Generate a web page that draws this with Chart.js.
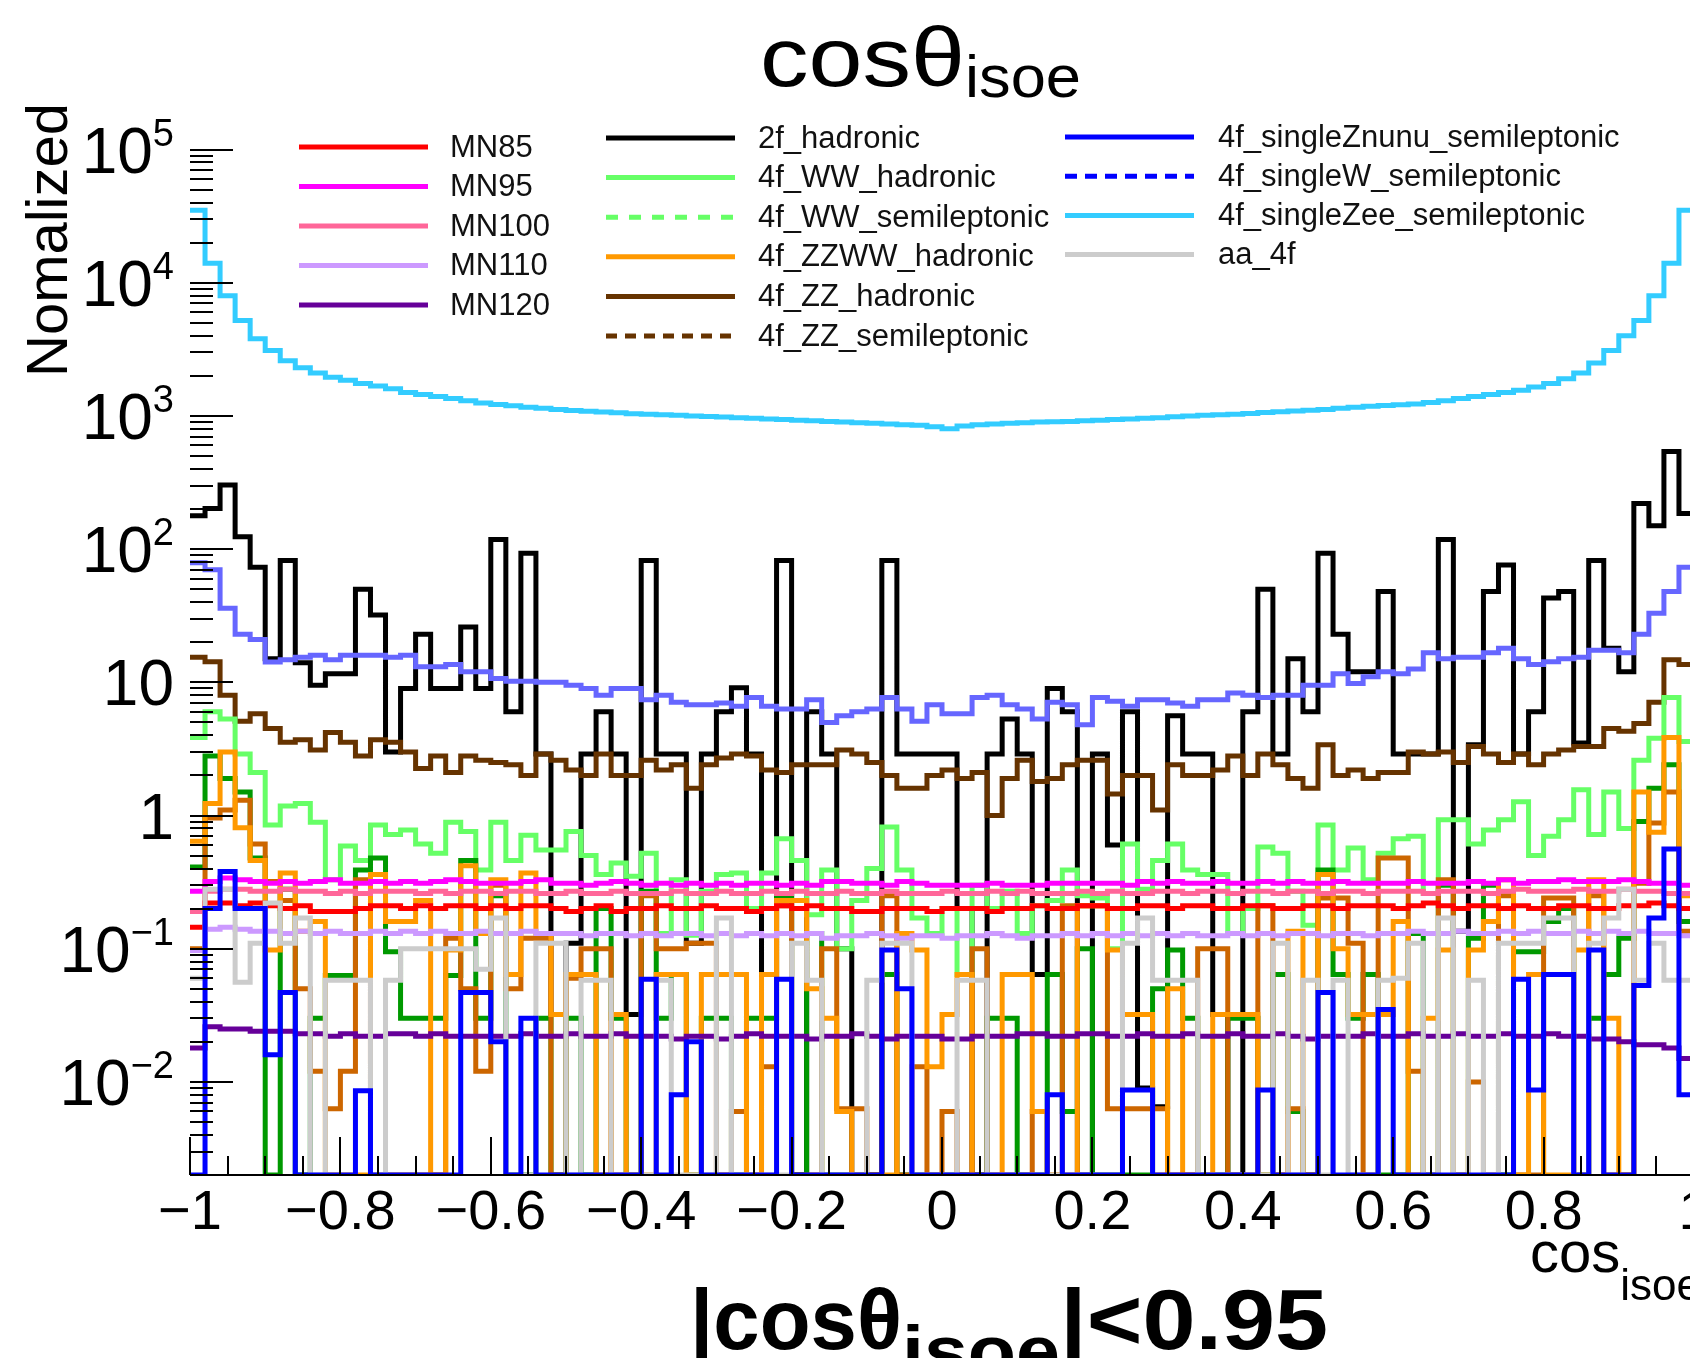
<!DOCTYPE html>
<html>
<head>
<meta charset="utf-8">
<title>cos theta isoe</title>
<script src="https://cdn.jsdelivr.net/npm/chart.js@4.4.1/dist/chart.umd.min.js"></script>
<style>
  html, body { margin: 0; padding: 0; background: #ffffff; overflow: hidden; }
  canvas { display: block; }
</style>
</head>
<body>
<canvas id="histo" width="1690" height="1358" style="width:1690px;height:1358px"></canvas>
<script>
// binning: 100 bins from -1 to 1
const BIN_LO = -1;
const BIN_W = 0.02;
const Y_MIN = 0.002;
const Y_MAX = 1.2e5;
const X_MAX = -1 + 1500 / 752;   // x = 1 sits just past the right edge

const xTicks = [-1, -0.8, -0.6, -0.4, -0.2, 0, 0.2, 0.4, 0.6, 0.8, 1];
const yDecades = [-2, -1, 0, 1, 2, 3, 4, 5];

// signal samples
const mn85 = [
  0.145, 0.22, 0.22, 0.21, 0.22, 0.21, 0.2, 0.21, 0.19, 0.19, 0.19, 0.2, 0.21, 0.21, 0.2, 0.21, 0.2, 0.21, 0.21, 0.2,
  0.21, 0.2, 0.21, 0.21, 0.2, 0.19, 0.2, 0.21, 0.19, 0.2, 0.2, 0.21, 0.2, 0.2, 0.21, 0.2, 0.2, 0.19, 0.2, 0.21,
  0.2, 0.21, 0.2, 0.2, 0.19, 0.19, 0.2, 0.2, 0.2, 0.19, 0.2, 0.2, 0.2, 0.19, 0.2, 0.2, 0.21, 0.2, 0.2, 0.21,
  0.21, 0.2, 0.2, 0.21, 0.21, 0.2, 0.21, 0.21, 0.2, 0.2, 0.21, 0.21, 0.2, 0.2, 0.21, 0.21, 0.2, 0.21, 0.21, 0.21,
  0.2, 0.21, 0.22, 0.21, 0.2, 0.21, 0.21, 0.2, 0.21, 0.2, 0.2, 0.21, 0.21, 0.2, 0.2, 0.21, 0.21, 0.22, 0.21, 0.2
];
const mn95 = [
  0.27, 0.32, 0.34, 0.33, 0.32, 0.31, 0.32, 0.31, 0.32, 0.33, 0.31, 0.31, 0.32, 0.31, 0.32, 0.31, 0.32, 0.33, 0.32, 0.31,
  0.31, 0.31, 0.32, 0.33, 0.31, 0.31, 0.3, 0.31, 0.32, 0.31, 0.3, 0.31, 0.3, 0.31, 0.3, 0.31, 0.3, 0.31, 0.31, 0.3,
  0.31, 0.3, 0.32, 0.32, 0.31, 0.31, 0.3, 0.32, 0.31, 0.3, 0.3, 0.3, 0.3, 0.31, 0.3, 0.3, 0.3, 0.31, 0.31, 0.31,
  0.31, 0.31, 0.3, 0.32, 0.31, 0.32, 0.31, 0.31, 0.32, 0.31, 0.31, 0.32, 0.31, 0.32, 0.31, 0.31, 0.32, 0.31, 0.31, 0.31,
  0.31, 0.32, 0.31, 0.31, 0.31, 0.32, 0.31, 0.33, 0.31, 0.32, 0.32, 0.33, 0.32, 0.32, 0.32, 0.33, 0.32, 0.31, 0.31, 0.3
];
const mn100 = [
  0.19, 0.27, 0.28, 0.28, 0.27, 0.27, 0.28, 0.27, 0.27, 0.26, 0.27, 0.26, 0.27, 0.27, 0.27, 0.26, 0.27, 0.26, 0.27, 0.27,
  0.26, 0.27, 0.27, 0.26, 0.26, 0.27, 0.26, 0.26, 0.27, 0.26, 0.26, 0.26, 0.27, 0.26, 0.26, 0.27, 0.26, 0.26, 0.27, 0.26,
  0.27, 0.26, 0.26, 0.27, 0.26, 0.26, 0.27, 0.26, 0.26, 0.26, 0.27, 0.26, 0.26, 0.27, 0.26, 0.27, 0.26, 0.26, 0.26, 0.27,
  0.26, 0.27, 0.26, 0.26, 0.27, 0.27, 0.26, 0.27, 0.27, 0.26, 0.27, 0.27, 0.26, 0.27, 0.27, 0.26, 0.27, 0.27, 0.26, 0.27,
  0.27, 0.27, 0.26, 0.27, 0.27, 0.27, 0.26, 0.27, 0.28, 0.27, 0.27, 0.27, 0.28, 0.27, 0.27, 0.28, 0.27, 0.27, 0.26, 0.26
];
const mn110 = [
  0.097, 0.14, 0.145, 0.14, 0.135, 0.135, 0.13, 0.135, 0.13, 0.135, 0.13, 0.13, 0.135, 0.13, 0.135, 0.13, 0.135, 0.13, 0.13, 0.135,
  0.13, 0.13, 0.135, 0.13, 0.13, 0.13, 0.125, 0.13, 0.13, 0.125, 0.13, 0.125, 0.13, 0.13, 0.125, 0.13, 0.125, 0.13, 0.125, 0.13,
  0.125, 0.13, 0.12, 0.125, 0.125, 0.13, 0.125, 0.12, 0.125, 0.125, 0.12, 0.125, 0.125, 0.13, 0.125, 0.12, 0.125, 0.125, 0.13, 0.125,
  0.13, 0.125, 0.13, 0.125, 0.13, 0.125, 0.13, 0.125, 0.125, 0.13, 0.125, 0.13, 0.125, 0.13, 0.13, 0.125, 0.13, 0.13, 0.125, 0.13,
  0.13, 0.135, 0.13, 0.13, 0.135, 0.13, 0.13, 0.135, 0.13, 0.135, 0.13, 0.13, 0.135, 0.13, 0.135, 0.13, 0.135, 0.13, 0.13, 0.125
];
const mn120 = [
  0.018, 0.026, 0.025, 0.025, 0.024, 0.024, 0.024, 0.023, 0.023, 0.022, 0.023, 0.022, 0.022, 0.023, 0.023, 0.022, 0.023, 0.022, 0.022, 0.022,
  0.022, 0.022, 0.023, 0.022, 0.022, 0.023, 0.022, 0.022, 0.023, 0.022, 0.022, 0.022, 0.021, 0.022, 0.022, 0.021, 0.022, 0.023, 0.022, 0.022,
  0.022, 0.021, 0.022, 0.022, 0.023, 0.022, 0.021, 0.022, 0.022, 0.022, 0.021, 0.021, 0.022, 0.022, 0.022, 0.023, 0.023, 0.022, 0.022, 0.023,
  0.023, 0.022, 0.022, 0.023, 0.022, 0.022, 0.023, 0.022, 0.022, 0.023, 0.022, 0.022, 0.023, 0.022, 0.021, 0.022, 0.022, 0.022, 0.023, 0.022,
  0.022, 0.023, 0.022, 0.022, 0.023, 0.022, 0.022, 0.023, 0.022, 0.022, 0.023, 0.022, 0.022, 0.021, 0.021, 0.02, 0.019, 0.019, 0.018, 0.015
];

// backgrounds (0 = empty bin)
const had2f = [
  178, 202, 303, 124, 73, 15, 82, 14, 9.5, 11.6, 11.6, 50, 32, 3.0, 9.0, 23, 9.0, 9.0, 26, 9.0,
  118, 6.0, 93, 2.9, 0.032, 0.11, 2.9, 6.0, 2.9, 0.032, 82, 2.9, 2.9, 0.11, 2.9, 6.0, 9.1, 2.9, 0.064, 82,
  0, 6.0, 2.9, 0.1, 0, 0, 82, 2.9, 2.9, 2.9, 2.9, 0.2, 0, 2.9, 5.3, 2.9, 0.064, 9, 6, 0,
  2.9, 0.6, 6.0, 0.009, 0.0065, 5.6, 2.9, 2.9, 0.032, 0, 6.0, 50, 2.9, 15, 6.0, 93, 23, 12, 12, 48,
  2.9, 2.9, 2.9, 118, 0.135, 3.4, 48, 76, 2.9, 6.0, 43, 48, 3.5, 82, 18, 12, 220, 150, 540, 185
];
const wwHad = [
  3.85, 6.0, 5.3, 2.9, 2.1, 0.85, 1.18, 1.23, 0.89, 0.33, 0.59, 0.46, 0.85, 0.72, 0.78, 0.61, 0.52, 0.89, 0.76, 0.39,
  0.89, 0.46, 0.71, 0.55, 0.55, 0.76, 0.5, 0.36, 0.44, 0.35, 0.52, 0.13, 0.33, 0.126, 0.27, 0.36, 0.37, 0.2, 0.37, 0.67,
  0.46, 0.18, 0.39, 0.1, 0.23, 0.4, 0.82, 0.39, 0.17, 0.13, 0.2, 0.064, 0.3, 0.2, 0.27, 0.13, 0.21, 0.23, 0.39, 0.25,
  0.24, 0.1, 0.61, 0.28, 0.46, 0.61, 0.39, 0.36, 0.36, 0.13, 0.2, 0.58, 0.52, 0.27, 0.15, 0.85, 0.39, 0.57, 0.33, 0.52,
  0.67, 0.7, 0.26, 0.93, 0.93, 0.61, 0.78, 0.93, 1.27, 0.5, 0.7, 0.93, 1.56, 0.72, 1.5, 0.8, 2.6, 3.8, 7.7, 3.6
];
const wwSemi = [
  0.41, 2.8, 1.9, 1.5, 0.48, 0, 0.28, 0, 0.03, 0.063, 0.063, 0.39, 0.48, 0.095, 0.03, 0.03, 0.03, 0.063, 0.46, 0.03,
  0.25, 0, 0, 0.03, 0, 0.03, 0, 0.2, 0.03, 0, 0.27, 0.03, 0.064, 0, 0.03, 0.03, 0, 0.03, 0.03, 0.25,
  0, 0.13, 0, 0, 0, 0, 0.064, 0, 0, 0, 0, 0, 0, 0.03, 0.03, 0, 0, 0.064, 0.006, 0.1,
  0, 0, 0, 0, 0.05, 0.098, 0.03, 0, 0, 0.03, 0.03, 0, 0.064, 0.006, 0, 0.39, 0.064, 0.03, 0.064, 0,
  0, 0.13, 0, 0.3, 0, 0.12, 0.3, 0, 0.095, 0.095, 0.16, 0.2, 0, 0.03, 0.064, 0.12, 0.9, 1.6, 2.4, 0.16
];
const zzwwHad = [
  0.64, 1.23, 3.0, 0.81, 0.46, 0.098, 0.37, 0.135, 0.16, 0, 0, 0, 0.36, 0.16, 0.16, 0.23, 0, 0.098, 0.42, 0.13,
  0.33, 0.064, 0.37, 0.13, 0.032, 0.064, 0.064, 0, 0.032, 0, 0, 0.064, 0.064, 0, 0.064, 0.064, 0.064, 0, 0.064, 0.23,
  0.23, 0.05, 0.03, 0.006, 0, 0, 0, 0.13, 0.098, 0.013, 0.032, 0.064, 0, 0, 0.064, 0.064, 0.006, 0, 0, 0.21,
  0.21, 0.098, 0.032, 0.032, 0, 0.05, 0, 0, 0.032, 0.032, 0.032, 0, 0, 0.135, 0, 0.36, 0.1, 0.032, 0.032, 0.032,
  0.16, 0, 0.03, 0.098, 0, 0.098, 0.16, 0.33, 0, 0.064, 0, 0, 0.098, 0.33, 0.03, 0, 1.5, 0.75, 3.85, 0.25
];
const zzHad = [
  15.4, 14.3, 8.0, 5.1, 5.8, 4.5, 3.55, 3.7, 3.1, 4.2, 3.55, 2.8, 3.7, 3.55, 3.0, 2.25, 2.8, 2.1, 2.8, 2.6,
  2.5, 2.4, 2.0, 2.9, 2.6, 2.2, 2.0, 2.9, 2.0, 2.0, 2.6, 2.2, 2.4, 1.6, 2.4, 2.7, 2.9, 2.8, 2.2, 2.1,
  2.4, 2.4, 2.4, 3.1, 2.9, 2.5, 2.0, 1.6, 1.6, 2.0, 2.2, 1.9, 2.1, 1.0, 1.9, 2.6, 1.8, 1.9, 2.4, 2.6,
  2.6, 1.45, 2.0, 2.0, 1.1, 2.4, 2.0, 2.0, 2.2, 2.8, 2.0, 2.9, 2.4, 1.9, 1.6, 3.4, 2.0, 2.2, 1.9, 2.1,
  2.1, 3.0, 2.9, 3.0, 2.5, 3.3, 2.9, 2.5, 2.9, 2.4, 2.9, 3.1, 3.3, 3.3, 4.5, 4.3, 4.9, 7.1, 14.8, 13.6
];
const zzSemi = [
  0.1, 0.96, 1.1, 1.3, 0.61, 0.32, 0.23, 0.05, 0.012, 0.0063, 0.012, 0.33, 0, 0, 0, 0, 0, 0.12, 0.05, 0.012,
  0.3, 0.05, 0.12, 0.12, 0, 0.06, 0.1, 0.1, 0, 0, 0.25, 0.1, 0.1, 0.11, 0.11, 0, 0.006, 0, 0.013, 0.21,
  0, 0, 0.1, 0.0063, 0.0063, 0, 0.25, 0, 0.013, 0, 0.006, 0, 0.1, 0, 0, 0, 0.006, 0, 0.21, 0.21,
  0.21, 0.0063, 0.0063, 0.0063, 0.0063, 0, 0, 0.1, 0.1, 0, 0, 0.21, 0, 0.0063, 0, 0.24, 0.24, 0.11, 0, 0.48,
  0.48, 0.012, 0, 0.33, 0, 0.01, 0, 0.25, 0, 0, 0.24, 0.24, 0, 0.25, 0, 0, 0.31, 0.88, 1.5, 0.135
];
const singleZnunu = [
  0, 0.2, 0.38, 0.2, 0.2, 0.016, 0.047, 0, 0, 0, 0, 0.0086, 0, 0, 0, 0, 0, 0, 0.047, 0.047,
  0.02, 0, 0.03, 0, 0, 0, 0, 0, 0, 0, 0.059, 0, 0.008, 0.02, 0, 0, 0, 0, 0, 0.059,
  0, 0, 0, 0, 0, 0, 0.098, 0.05, 0, 0, 0, 0, 0, 0, 0, 0, 0, 0.008, 0, 0,
  0, 0, 0.0087, 0.0087, 0, 0, 0, 0, 0, 0, 0, 0.0087, 0, 0, 0, 0.047, 0, 0, 0, 0.035,
  0, 0, 0, 0, 0, 0, 0, 0, 0.059, 0.0087, 0.064, 0.064, 0, 0.098, 0, 0, 0.053, 0.17, 0.56, 0.008
];
const singleW = [
  79, 70, 36, 23, 21, 14.2, 14.8, 15.4, 16, 14.8, 16, 16, 16, 15.4, 16, 13.1, 13.1, 13.6, 12, 12,
  10.7, 10.2, 10.2, 10, 10, 9.5, 9.0, 8.0, 9.0, 9.0, 7.4, 8.0, 7.1, 6.8, 6.8, 7.0, 6.6, 7.7, 6.6, 6.3,
  6.3, 7.4, 5.0, 5.6, 6.0, 6.3, 7.7, 6.3, 5.1, 6.8, 5.8, 5.8, 7.7, 8.0, 6.8, 6.3, 5.3, 7.1, 6.8, 4.8,
  7.7, 7.2, 6.6, 7.4, 7.4, 7.0, 6.6, 7.4, 7.4, 8.3, 8.0, 7.7, 8.0, 8.0, 9.5, 9.5, 11.6, 9.8, 11, 12,
  11.6, 12.6, 16.7, 15, 15.4, 15.4, 16.7, 18, 15, 13.6, 14.3, 15, 15.4, 17.4, 17.4, 16.7, 23, 33, 48, 73
];
const singleZee = [
  35000, 14000, 8000, 5200, 3800, 3100, 2600, 2300, 2100, 1950, 1850, 1750, 1680, 1600, 1500, 1450, 1400, 1350, 1300, 1250,
  1220, 1190, 1160, 1140, 1120, 1100, 1085, 1070, 1055, 1040, 1030, 1020, 1010, 1000, 990, 980, 970, 960, 950, 940,
  930, 920, 910, 900, 890, 880, 870, 860, 850, 830, 800, 840, 860, 870, 880, 890, 900, 905, 910, 920,
  930, 940, 950, 960, 970, 985, 1000, 1010, 1020, 1030, 1045, 1060, 1075, 1090, 1105, 1120, 1140, 1160, 1180, 1200,
  1215, 1230, 1260, 1300, 1350, 1400, 1450, 1500, 1560, 1650, 1750, 1900, 2100, 2500, 3100, 4000, 5200, 8000, 14000, 35000
];
const aa4f = [
  0.06, 0.28, 0.28, 0.056, 0.11, 0.22, 0.11, 0.17, 0, 0.058, 0.058, 0.058, 0, 0.058, 0.1, 0.1, 0.1, 0.1, 0.1, 0.07,
  0.17, 0, 0, 0.11, 0.11, 0, 0.058, 0.058, 0, 0, 0, 0.058, 0, 0, 0, 0.17, 0, 0, 0, 0,
  0.11, 0.058, 0, 0, 0, 0.058, 0.11, 0.11, 0, 0, 0, 0.058, 0.058, 0, 0, 0, 0, 0, 0, 0,
  0, 0, 0.11, 0.17, 0.058, 0.058, 0.058, 0, 0, 0, 0, 0, 0.11, 0, 0.058, 0, 0.058, 0, 0, 0.058,
  0.06, 0.11, 0, 0.17, 0, 0.058, 0, 0.11, 0.11, 0.11, 0.17, 0.17, 0, 0.11, 0.17, 0.28, 0.058, 0.11, 0.058, 0.058
];

// first entry is drawn on top
const plotOrder = [
  ['4f_singleZnunu_semileptonic', singleZnunu, '#0000ff'],
  ['aa_4f', aa4f, '#cccccc'],
  ['MN85', mn85, '#ff0000'],
  ['MN95', mn95, '#ff00ff'],
  ['MN100', mn100, '#ff6699'],
  ['MN110', mn110, '#cc99ff'],
  ['MN120', mn120, '#660099'],
  ['4f_ZZWW_hadronic', zzwwHad, '#ff9900'],
  ['4f_ZZ_semileptonic', zzSemi, '#cc6600'],
  ['4f_WW_semileptonic', wwSemi, '#009900'],
  ['4f_WW_hadronic', wwHad, '#66ff66'],
  ['4f_ZZ_hadronic', zzHad, '#663300'],
  ['4f_singleW_semileptonic', singleW, '#6666ff'],
  ['2f_hadronic', had2f, '#000000'],
  ['4f_singleZee_semileptonic', singleZee, '#33ccff']
];

// legend columns: [label, colour, dash]
const legendCols = [
  { lineX: [299, 428], textX: 450, y0: 147, dy: 39.5, items: [
    ['MN85', '#ff0000', []], ['MN95', '#ff00ff', []], ['MN100', '#ff6699', []],
    ['MN110', '#cc99ff', []], ['MN120', '#660099', []] ] },
  { lineX: [606, 735], textX: 758, y0: 138, dy: 39.6, items: [
    ['2f_hadronic', '#000000', []], ['4f_WW_hadronic', '#66ff66', []],
    ['4f_WW_semileptonic', '#66ff66', [12, 11]], ['4f_ZZWW_hadronic', '#ff9900', []],
    ['4f_ZZ_hadronic', '#663300', []], ['4f_ZZ_semileptonic', '#663300', [11, 8]] ] },
  { lineX: [1065, 1194], textX: 1218, y0: 137, dy: 39.2, items: [
    ['4f_singleZnunu_semileptonic', '#0000ff', []], ['4f_singleW_semileptonic', '#0000ff', [12, 8]],
    ['4f_singleZee_semileptonic', '#33ccff', []], ['aa_4f', '#cccccc', []] ] }
];

const FONT = '"Liberation Sans", Arial, Helvetica, sans-serif';

function histPoints(vals) {
  const pts = [];
  vals.forEach((v, i) => {
    const y = v > 0 ? v : Y_MIN;
    pts.push({ x: BIN_LO + i * BIN_W, y: y }, { x: BIN_LO + (i + 1) * BIN_W, y: y });
  });
  return pts;
}

// draw a run of text pieces (sub/superscripts); a piece with fit is stretched to that width
function textRuns(ctx, x, y, runs, align) {
  let total = 0;
  runs.forEach(r => {
    ctx.font = r.font;
    const nw = ctx.measureText(r.t).width;
    r.sx = r.fit ? r.fit / nw : 1;
    r.w = nw * r.sx;
    total += r.w;
  });
  let cx = align === 'right' ? x - total : (align === 'center' ? x - total / 2 : x);
  ctx.save();
  ctx.textAlign = 'left';
  ctx.textBaseline = 'alphabetic';
  runs.forEach(r => {
    ctx.save();
    ctx.font = r.font;
    ctx.translate(cx, y + (r.dy || 0));
    ctx.scale(r.sx, 1);
    ctx.fillText(r.t, 0, 0);
    ctx.restore();
    cx += r.w;
  });
  ctx.restore();
}

const rootStyle = {
  id: 'rootStyle',
  afterDatasetsDraw(chart) {
    const { ctx, chartArea: a } = chart;
    const xs = chart.scales.x, ys = chart.scales.y;
    ctx.save();
    ctx.strokeStyle = '#000';
    ctx.lineWidth = 2;
    ctx.beginPath();
    ctx.moveTo(a.left, a.bottom);
    ctx.lineTo(a.right, a.bottom);
    for (let e = -3; e <= 5; e++) {
      for (let m = 1; m < 10; m++) {
        const v = m * Math.pow(10, e);
        if (v < Y_MIN * 1.01 || v > Y_MAX) continue;
        const py = Math.round(ys.getPixelForValue(v));
        ctx.moveTo(a.left, py);
        ctx.lineTo(a.left + (m === 1 ? 43 : 23), py);
      }
    }
    for (let k = 0; k <= 40; k++) {
      const v = -1 + k * 0.05;
      const px = Math.round(xs.getPixelForValue(v));
      if (px > a.right) continue;
      ctx.moveTo(px, a.bottom);
      ctx.lineTo(px, a.bottom - (k % 4 === 0 ? 38 : 19));
    }
    ctx.stroke();
    ctx.restore();
  },
  afterDraw(chart) {
    const { ctx, chartArea: a } = chart;
    const xs = chart.scales.x, ys = chart.scales.y;
    ctx.save();
    ctx.fillStyle = '#000';

    // y labels
    yDecades.forEach(e => {
      const py = ys.getPixelForValue(Math.pow(10, e));
      const runs = [{ t: e === 0 ? '1' : '10', font: '64px ' + FONT }];
      if (e < 0 || e > 1) runs.push({ t: e < 0 ? '\u2212' + (-e) : String(e), font: '38px ' + FONT, dy: -27 });
      textRuns(ctx, 174, py + 23, runs, 'right');
    });

    // x labels, hung below the axis line
    ctx.font = '56px ' + FONT;
    ctx.textAlign = 'center';
    ctx.textBaseline = 'alphabetic';
    xTicks.forEach(v => {
      const s = (Math.abs(v) < 1e-9 ? '0' : String(Math.round(v * 10) / 10)).replace('-', '\u2212');
      ctx.fillText(s, xs.getPixelForValue(v), a.bottom + 54);
    });

    // x axis title
    textRuns(ctx, 1530, a.bottom + 97, [
      { t: 'cos', font: '58px ' + FONT },
      { t: 'isoe', font: '44px ' + FONT, dy: 28 }
    ], 'left');

    // y axis title
    ctx.save();
    ctx.translate(67, 377);
    ctx.rotate(-Math.PI / 2);
    ctx.font = '58px ' + FONT;
    ctx.textAlign = 'left';
    ctx.fillText('Nomalized', 0, 0);
    ctx.restore();

    // title
    textRuns(ctx, 760, 86, [
      { t: 'cos\u03b8', font: '84px ' + FONT, fit: 205 },
      { t: 'isoe', font: '60px ' + FONT, dy: 11, fit: 116 }
    ], 'left');

    // cut text at the bottom
    textRuns(ctx, 690, 1349, [
      { t: '|cos\u03b8', font: 'bold 86px ' + FONT, fit: 212 },
      { t: 'isoe', font: 'bold 70px ' + FONT, dy: 26, fit: 158 },
      { t: '|<0.95', font: 'bold 86px ' + FONT, fit: 268 }
    ], 'left');

    // legend
    legendCols.forEach(col => {
      col.items.forEach((it, r) => {
        const y = col.y0 + r * col.dy;
        ctx.save();
        ctx.strokeStyle = it[1];
        ctx.lineWidth = 5;
        ctx.setLineDash(it[2]);
        ctx.beginPath();
        ctx.moveTo(col.lineX[0], y);
        ctx.lineTo(col.lineX[1], y);
        ctx.stroke();
        ctx.restore();
        ctx.font = '31px ' + FONT;
        ctx.fillStyle = '#111';
        ctx.textAlign = 'left';
        ctx.textBaseline = 'middle';
        ctx.fillText(it[0], col.textX, y + 1);
      });
    });
    ctx.restore();
  }
};

const datasets = plotOrder.map(([label, vals, color]) => ({
  label: label,
  data: histPoints(vals),
  borderColor: color,
  borderWidth: 5,
  borderJoinStyle: 'miter',
  borderCapStyle: 'butt',
  pointRadius: 0,
  fill: false,
  tension: 0
}));

new Chart(document.getElementById('histo').getContext('2d'), {
  type: 'line',
  data: { datasets: datasets },
  options: {
    responsive: false,
    animation: false,
    devicePixelRatio: 1,
    parsing: false,
    layout: { padding: { left: 190, right: 0, top: 139, bottom: 183 } },
    scales: {
      x: { type: 'linear', min: BIN_LO, max: X_MAX, display: false },
      y: { type: 'logarithmic', min: Y_MIN, max: Y_MAX, display: false }
    },
    plugins: { legend: { display: false }, tooltip: { enabled: false } }
  },
  plugins: [rootStyle]
});
</script>
</body>
</html>
